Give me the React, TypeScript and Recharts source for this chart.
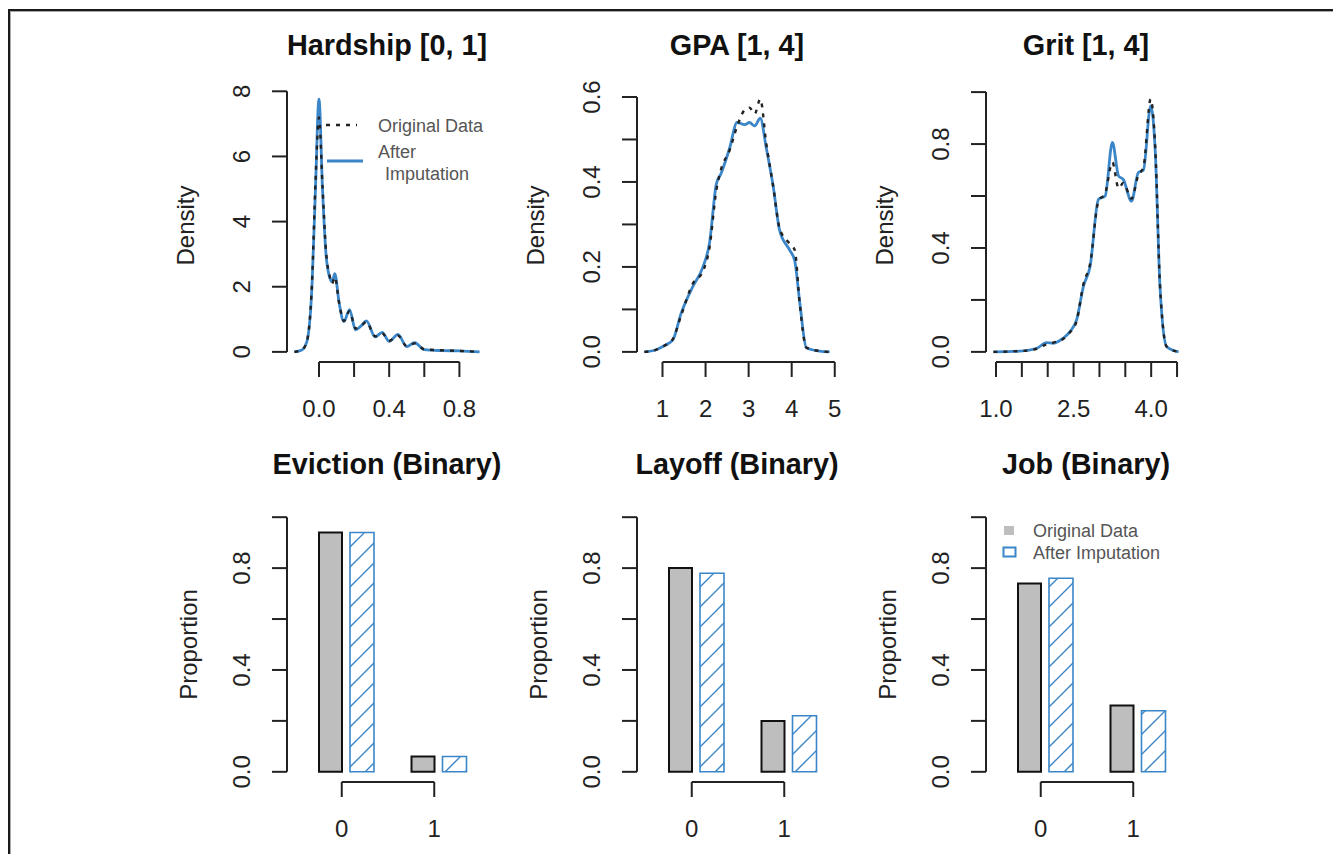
import React from 'react';
import { LineChart, Line, BarChart, Bar, XAxis, YAxis, ReferenceLine, Legend } from 'recharts';

const FONT = '"Liberation Sans", Arial, Helvetica, sans-serif';
const INK = '#222222';
const BLUE = '#3a86c8';
const GRAY = '#bebebe';

// ---------- Density panels ----------
const hardshipX = [-0.14, -0.1, -0.07, -0.04, -0.02, 0.0, 0.02, 0.04, 0.06, 0.075, 0.09, 0.115, 0.142, 0.174, 0.208, 0.24, 0.27, 0.32, 0.36, 0.4, 0.45, 0.5, 0.545, 0.6, 0.7, 0.8, 0.915];
const hardshipOriginal = [0, 0.05, 0.3, 2.1, 5.2, 7.2, 5.1, 3.1, 2.35, 2.1, 2.3, 1.5, 0.95, 1.25, 0.72, 0.8, 0.92, 0.48, 0.57, 0.34, 0.5, 0.18, 0.26, 0.08, 0.05, 0.03, 0.0];
const hardshipImputed = [0, 0.05, 0.3, 2.0, 5.0, 7.76, 5.0, 3.0, 2.3, 2.15, 2.4, 1.5, 0.93, 1.3, 0.68, 0.8, 0.95, 0.46, 0.6, 0.32, 0.54, 0.16, 0.28, 0.07, 0.04, 0.03, 0.0];
const hardshipXTicks = [0, 0.2, 0.4, 0.6, 0.8];
const hardshipXLabels = ['0.0', '', '0.4', '', '0.8'];
const hardshipYTicks = [0, 2, 4, 6, 8];
const hardshipYLabels = ['0', '2', '4', '6', '8'];

const gpaX = [0.58, 0.85, 1.05, 1.24, 1.43, 1.7, 1.94, 2.09, 2.25, 2.36, 2.56, 2.73, 2.91, 3.02, 3.14, 3.27, 3.41, 3.57, 3.72, 3.95, 4.07, 4.19, 4.34, 4.65, 4.88];
const gpaOriginal = [0, 0.005, 0.015, 0.03, 0.085, 0.16, 0.19, 0.245, 0.38, 0.43, 0.475, 0.53, 0.57, 0.575, 0.56, 0.595, 0.49, 0.39, 0.29, 0.255, 0.24, 0.11, 0.01, 0.002, 0];
const gpaImputed = [0, 0.005, 0.015, 0.028, 0.09, 0.153, 0.2, 0.255, 0.395, 0.42, 0.48, 0.54, 0.535, 0.54, 0.532, 0.55, 0.48, 0.39, 0.286, 0.24, 0.215, 0.114, 0.01, 0.002, 0];
const gpaXTicks = [1, 2, 3, 4, 5];
const gpaXLabels = ['1', '2', '3', '4', '5'];
const gpaYTicks = [0, 0.1, 0.2, 0.3, 0.4, 0.5, 0.6];
const gpaYLabels = ['0.0', '', '0.2', '', '0.4', '', '0.6'];

const gritX = [0.95, 1.46, 1.79, 1.98, 2.11, 2.3, 2.43, 2.56, 2.69, 2.82, 2.98, 3.11, 3.25, 3.37, 3.46, 3.62, 3.75, 3.85, 3.99, 4.08, 4.17, 4.3, 4.53];
const gritOriginal = [0, 0.003, 0.012, 0.03, 0.036, 0.05, 0.075, 0.12, 0.26, 0.34, 0.58, 0.61, 0.73, 0.63, 0.65, 0.59, 0.68, 0.71, 0.973, 0.78, 0.26, 0.02, 0];
const gritImputed = [0, 0.003, 0.014, 0.036, 0.033, 0.053, 0.078, 0.124, 0.252, 0.33, 0.587, 0.6, 0.806, 0.677, 0.664, 0.58, 0.69, 0.7, 0.947, 0.767, 0.252, 0.02, 0];
const gritXTicks = [1, 1.5, 2, 2.5, 3, 3.5, 4, 4.5];
const gritXLabels = ['1.0', '', '', '2.5', '', '', '4.0', ''];
const gritYTicks = [0, 0.2, 0.4, 0.6, 0.8, 1.0];
const gritYLabels = ['0.0', '', '0.4', '', '0.8', ''];

// ---------- Binary panels ----------
const binaryCategories = ['0', '1'];
const evictionOriginal = [0.94, 0.06];
const evictionImputed = [0.94, 0.06];
const layoffOriginal = [0.8, 0.2];
const layoffImputed = [0.78, 0.22];
const jobOriginal = [0.74, 0.26];
const jobImputed = [0.76, 0.24];
const proportionTicks = [0, 0.2, 0.4, 0.6, 0.8, 1.0];
const proportionLabels = ['0.0', '', '0.4', '', '0.8', ''];

const PANEL_LEFTS = [287, 637, 986];
const PLOT_W = 200;

const ext = (lo: number, hi: number): [number, number] => {
  const r = hi - lo;
  return [lo - 0.04 * r, hi + 0.04 * r];
};

const labelFor = (value: any, ticks: any[], labels: string[]) => {
  const i = ticks.findIndex((t) => (typeof t === 'number' ? Math.abs(t - Number(value)) < 1e-9 : String(t) === String(value)));
  return i >= 0 ? labels[i] : '';
};

const makeXTick = (ticks: any[], labels: string[]) => (p: any) => {
  const lab = labelFor(p.payload.value, ticks, labels);
  if (!lab) return <g />;
  return (
    <text x={p.x} y={p.y + 31} textAnchor="middle" dominantBaseline="central" fontSize={24} fill={INK} fontFamily={FONT}>
      {lab}
    </text>
  );
};

const makeYTick = (ticks: any[], labels: string[]) => (p: any) => {
  const lab = labelFor(p.payload.value, ticks, labels);
  if (!lab) return <g />;
  const cx = p.x - 30;
  const cy = p.y;
  return (
    <text x={cx} y={cy} transform={`rotate(-90, ${cx}, ${cy})`} textAnchor="middle" dominantBaseline="central" fontSize={24} fill={INK} fontFamily={FONT}>
      {lab}
    </text>
  );
};

const makeYTitle = (text: string, dist: number, fallbackCy: number) => (p: any) => {
  const vb = p.viewBox || {};
  const axisX = vb.width !== undefined ? vb.x + vb.width : 140;
  const cx = axisX - dist;
  const cy = vb.height !== undefined ? vb.y + vb.height / 2 : fallbackCy;
  return (
    <text x={cx} y={cy} transform={`rotate(-90, ${cx}, ${cy})`} textAnchor="middle" dominantBaseline="central" fontSize={24} fill={INK} fontFamily={FONT}>
      {text}
    </text>
  );
};

const Title = ({ cx, cy, text }: { cx: number; cy: number; text: string }) => (
  <div
    style={{
      position: 'absolute',
      left: cx - 170,
      top: cy - 17,
      width: 340,
      height: 34,
      lineHeight: '34px',
      textAlign: 'center',
      fontFamily: FONT,
      fontWeight: 'bold',
      fontSize: 28.8,
      color: '#111',
      whiteSpace: 'nowrap',
    }}
  >
    {text}
  </div>
);

const densityLegend = () => (
  <svg width={200} height={75} style={{ overflow: 'visible' }}>
    <line x1={4} y1={15} x2={35} y2={15} stroke={INK} strokeWidth={2.4} strokeDasharray="4 6" />
    <line x1={5} y1={51} x2={41} y2={51} stroke={BLUE} strokeWidth={2.8} />
    <text x={56} y={16} dominantBaseline="central" fontSize={18} fill="#555" fontFamily={FONT}>Original Data</text>
    <text x={56} y={42} dominantBaseline="central" fontSize={18} fill="#555" fontFamily={FONT}>After</text>
    <text x={63} y={64} dominantBaseline="central" fontSize={18} fill="#555" fontFamily={FONT}>Imputation</text>
  </svg>
);

const barLegend = () => (
  <svg width={190} height={45} style={{ overflow: 'visible' }}>
    <rect x={4} y={8} width={10} height={9} fill={GRAY} />
    <rect x={3.5} y={29.5} width={12} height={9} fill="none" stroke={BLUE} strokeWidth={2} />
    <text x={33} y={13} dominantBaseline="central" fontSize={18} fill="#555" fontFamily={FONT}>Original Data</text>
    <text x={33} y={35} dominantBaseline="central" fontSize={18} fill="#555" fontFamily={FONT}>After Imputation</text>
  </svg>
);

type DensityProps = {
  left: number;
  xs: number[];
  orig: number[];
  imp: number[];
  xTicks: number[];
  xLabels: string[];
  yTicks: number[];
  yLabels: string[];
  legend?: boolean;
};

function DensityPanel({ left, xs, orig, imp, xTicks, xLabels, yTicks, yLabels, legend }: DensityProps) {
  const data = xs.map((x, i) => ({ x, original: orig[i], imputed: imp[i] }));
  const xDom = ext(Math.min(...xs), Math.max(...xs));
  const yDom = ext(0, Math.max(...orig, ...imp));
  const chartLeft = left - 140;
  const chartTop = 60;
  return (
    <div style={{ position: 'absolute', left: chartLeft, top: chartTop }}>
      <LineChart width={355} height={372} data={data} margin={{ top: 29, right: 15, bottom: 0, left: 0 }}>
        <XAxis
          dataKey="x"
          type="number"
          domain={xDom}
          ticks={xTicks}
          interval={0}
          allowDataOverflow
          axisLine={false}
          stroke={INK}
          tickLine={{ stroke: INK, strokeWidth: 2 }}
          tickSize={15}
          tickMargin={0}
          height={70}
          tick={makeXTick(xTicks, xLabels)}
        />
        <YAxis
          type="number"
          domain={yDom}
          ticks={yTicks}
          interval={0}
          allowDataOverflow
          axisLine={false}
          stroke={INK}
          tickLine={{ stroke: INK, strokeWidth: 2 }}
          tickSize={15}
          tickMargin={0}
          width={140}
          tick={makeYTick(yTicks, yLabels)}
          label={makeYTitle('Density', 102, 165)}
        />
        <ReferenceLine
          segment={[{ x: xTicks[0], y: yDom[0] }, { x: xTicks[xTicks.length - 1], y: yDom[0] }]}
          stroke={INK}
          strokeWidth={2}
          ifOverflow="visible"
        />
        <ReferenceLine
          segment={[{ x: xDom[0], y: yTicks[0] }, { x: xDom[0], y: yTicks[yTicks.length - 1] }]}
          stroke={INK}
          strokeWidth={2}
          ifOverflow="visible"
        />
        <Line dataKey="imputed" name="After Imputation" type="monotone" stroke={BLUE} strokeWidth={2.8} dot={false} isAnimationActive={false} />
        <Line dataKey="original" name="Original Data" type="monotone" stroke={INK} strokeWidth={2.4} strokeDasharray="4 6" dot={false} isAnimationActive={false} />
        {legend && (
          <Legend
            layout="vertical"
            align="center"
            verticalAlign="middle"
            content={densityLegend}
            wrapperStyle={{ position: 'absolute', left: 322 - chartLeft, top: 110 - chartTop, width: 200, height: 75 }}
          />
        )}
      </LineChart>
    </div>
  );
}

type BinaryProps = {
  left: number;
  orig: number[];
  imp: number[];
  legend?: boolean;
};

function BinaryPanel({ left, orig, imp, legend }: BinaryProps) {
  const data = binaryCategories.map((c, i) => ({ cat: c, original: orig[i], imputed: imp[i] }));
  const yDom = ext(0, 1);
  const chartLeft = left - 140;
  const chartTop = 470;
  return (
    <div style={{ position: 'absolute', left: chartLeft, top: chartTop }}>
      <BarChart width={355} height={382} data={data} margin={{ top: 37, right: 15, bottom: 0, left: 0 }} barGap={8}>
        {/* visible R-style axis: ticks sit at the right edge of the "Original Data" bar */}
        <XAxis
          xAxisId="ticks"
          dataKey="cat"
          type="category"
          padding={{ left: 8.5, right: 6.5 }}
          interval={0}
          axisLine={false}
          stroke={INK}
          tickLine={{ stroke: INK, strokeWidth: 2 }}
          tickSize={15}
          tickMargin={0}
          height={70}
          tick={makeXTick(binaryCategories, binaryCategories)}
        />
        {/* axis that places the bars (hidden) */}
        <XAxis xAxisId="bars" dataKey="cat" type="category" padding={{ left: 13, right: 2 }} height={0} hide />
        <XAxis xAxisId="frame" type="number" domain={[0, 1]} height={0} hide />
        <YAxis
          type="number"
          domain={yDom}
          ticks={proportionTicks}
          interval={0}
          allowDataOverflow
          axisLine={false}
          stroke={INK}
          tickLine={{ stroke: INK, strokeWidth: 2 }}
          tickSize={15}
          tickMargin={0}
          width={140}
          tick={makeYTick(proportionTicks, proportionLabels)}
          label={makeYTitle('Proportion', 99, 174)}
        />
        <ReferenceLine
          xAxisId="ticks"
          segment={[{ x: binaryCategories[0], y: yDom[0] }, { x: binaryCategories[1], y: yDom[0] }]}
          stroke={INK}
          strokeWidth={2}
          ifOverflow="visible"
        />
        <ReferenceLine
          xAxisId="frame"
          segment={[{ x: 0, y: proportionTicks[0] }, { x: 0, y: proportionTicks[proportionTicks.length - 1] }]}
          stroke={INK}
          strokeWidth={2}
          ifOverflow="visible"
        />
        <Bar xAxisId="bars" dataKey="original" name="Original Data" barSize={23} fill={GRAY} stroke="#111" strokeWidth={2} isAnimationActive={false} />
        <Bar xAxisId="bars" dataKey="imputed" name="After Imputation" barSize={24} fill="url(#hatchBlue)" stroke={BLUE} strokeWidth={1.6} isAnimationActive={false} />
        {legend && (
          <Legend
            layout="vertical"
            align="center"
            verticalAlign="middle"
            content={barLegend}
            wrapperStyle={{ position: 'absolute', left: 1000 - chartLeft, top: 518 - chartTop, width: 190, height: 45 }}
          />
        )}
      </BarChart>
    </div>
  );
}

export default function App() {
  const topTitles = ['Hardship [0, 1]', 'GPA [1, 4]', 'Grit [1, 4]'];
  const bottomTitles = ['Eviction (Binary)', 'Layoff (Binary)', 'Job (Binary)'];
  return (
    <div style={{ position: 'absolute', left: 0, top: 0, width: 1333, height: 854, background: '#fff', overflow: 'hidden' }}>
      <svg width={0} height={0} style={{ position: 'absolute' }}>
        <defs>
          <pattern id="hatchBlue" patternUnits="userSpaceOnUse" width={20} height={20}>
            <path d="M0,20 L20,0 M-2,2 L2,-2 M18,22 L22,18" stroke={BLUE} strokeWidth={1.4} />
          </pattern>
        </defs>
      </svg>
      {/* cropped figure frame: only top and left edges are visible */}
      <div style={{ position: 'absolute', left: 8, top: 9, width: 1325, height: 2, background: '#1a1a1a' }} />
      <div style={{ position: 'absolute', left: 10, top: 11, width: 1323, height: 1, background: '#aaa' }} />
      <div style={{ position: 'absolute', left: 8, top: 9, width: 2, height: 845, background: '#1a1a1a' }} />
      <div style={{ position: 'absolute', left: 10, top: 11, width: 1, height: 843, background: '#aaa' }} />

      {PANEL_LEFTS.map((l, i) => (
        <Title key={'t' + i} cx={l + PLOT_W / 2} cy={45} text={topTitles[i]} />
      ))}
      {PANEL_LEFTS.map((l, i) => (
        <Title key={'b' + i} cx={l + PLOT_W / 2} cy={464} text={bottomTitles[i]} />
      ))}

      <DensityPanel left={PANEL_LEFTS[0]} xs={hardshipX} orig={hardshipOriginal} imp={hardshipImputed} xTicks={hardshipXTicks} xLabels={hardshipXLabels} yTicks={hardshipYTicks} yLabels={hardshipYLabels} legend />
      <DensityPanel left={PANEL_LEFTS[1]} xs={gpaX} orig={gpaOriginal} imp={gpaImputed} xTicks={gpaXTicks} xLabels={gpaXLabels} yTicks={gpaYTicks} yLabels={gpaYLabels} />
      <DensityPanel left={PANEL_LEFTS[2]} xs={gritX} orig={gritOriginal} imp={gritImputed} xTicks={gritXTicks} xLabels={gritXLabels} yTicks={gritYTicks} yLabels={gritYLabels} />

      <BinaryPanel left={PANEL_LEFTS[0]} orig={evictionOriginal} imp={evictionImputed} />
      <BinaryPanel left={PANEL_LEFTS[1]} orig={layoffOriginal} imp={layoffImputed} />
      <BinaryPanel left={PANEL_LEFTS[2]} orig={jobOriginal} imp={jobImputed} legend />

      {/* keep the right edge clean (the reference figure is cropped there) */}
      <div style={{ position: 'absolute', left: 1326, top: 12, width: 7, height: 842, background: '#fff' }} />
    </div>
  );
}
